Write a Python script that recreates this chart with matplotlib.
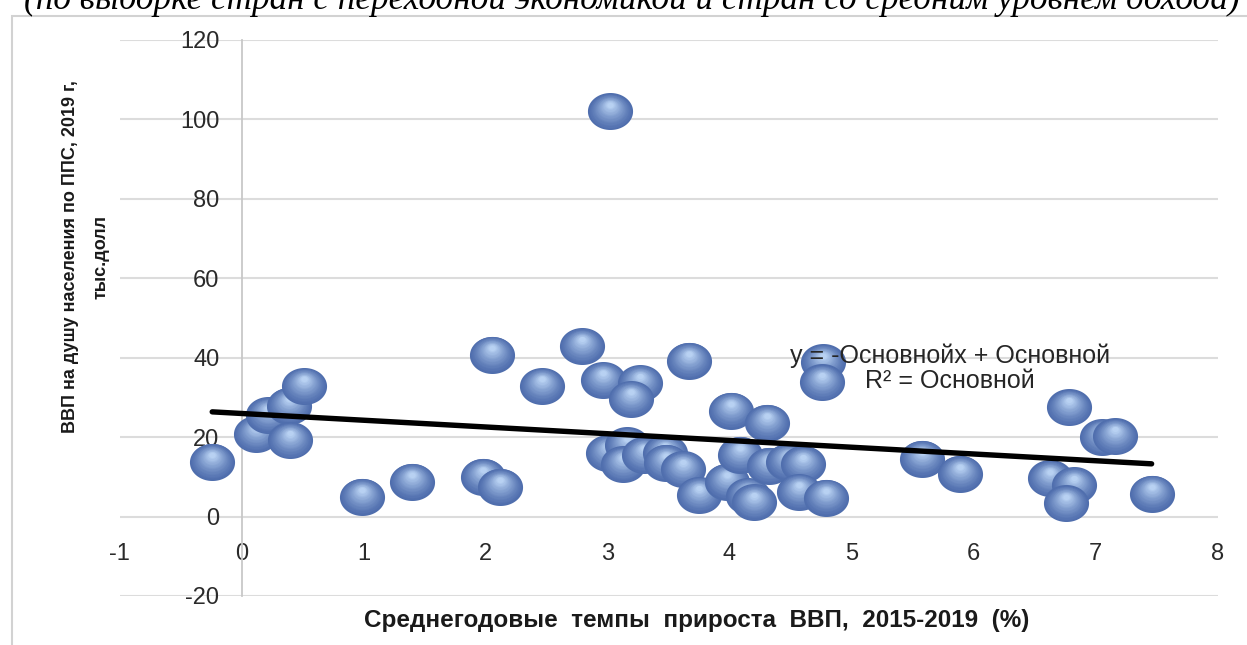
import matplotlib
matplotlib.use('Agg')
import matplotlib.pyplot as plt
import numpy as np
from matplotlib.path import Path
from matplotlib.transforms import offset_copy
from matplotlib.patches import Rectangle

# average GDP growth 2015-2019 (%) and GDP per capita PPP 2019 (thous. $)
growth = [-0.24, 0.12, 0.22, 0.39, 0.51, 0.40, 0.99, 1.40, 1.98, 2.12,
          2.05, 2.46, 2.79, 2.96, 3.27, 3.19, 3.02, 3.67, 3.00, 3.16,
          3.13, 3.30, 3.47, 3.48, 3.62, 3.75, 3.98, 4.01, 4.09, 4.15,
          4.20, 4.31, 4.32, 4.48, 4.60, 4.57, 4.79, 4.77, 4.76, 5.58,
          5.89, 6.63, 6.82, 6.76, 6.78, 7.05, 7.16, 7.46]
gdp_pc = [13.8, 20.8, 25.5, 27.9, 32.9, 19.2, 5.0, 8.8, 10.0, 7.5,
          40.8, 32.9, 42.9, 34.4, 33.6, 29.6, 102.0, 39.2, 16.0, 17.9,
          13.2, 15.5, 16.0, 13.6, 11.9, 5.4, 8.8, 26.7, 15.6, 5.2,
          3.6, 23.6, 12.8, 13.8, 13.2, 6.2, 4.8, 38.8, 33.8, 14.6,
          10.8, 9.6, 7.9, 3.3, 27.5, 20.0, 20.2, 5.8]

# linear trend as drawn in the source chart
trend_intercept = 25.96
trend_slope = -1.70

x_ticks = [-1, 0, 1, 2, 3, 4, 5, 6, 7, 8]
y_ticks = [-20, 0, 20, 40, 60, 80, 100, 120]

title_text = '(по выборке стран с переходной экономикой и стран со средним уровнем дохода)'
x_title = 'Среднегодовые  темпы  прироста  ВВП,  2015-2019  (%)'
y_title = 'ВВП на душу населения по ППС, 2019 г,\nтыс.долл'
eq_text = 'y = -Основнойx + Основной\nR² = Основной'

plt.rcParams['font.family'] = ['Liberation Sans', 'DejaVu Sans']
plt.rcParams['axes.unicode_minus'] = False

W, H = 1247, 645
fig = plt.figure(figsize=(W/100, H/100), dpi=100)
ax = fig.add_axes([119.5/W, 49/H, 1098/W, 556/H])
ax.set_xlim(-1, 8)
ax.set_ylim(-20, 120)
ax.set_xticks(x_ticks)
ax.set_yticks(y_ticks)

for s in ['top', 'right']:
    ax.spines[s].set_visible(False)
ax.spines['left'].set_position(('data', 0))
ax.spines['left'].set_color('#c8c8c8')
ax.spines['left'].set_linewidth(1.3)
ax.spines['bottom'].set_position(('data', 0))
ax.spines['bottom'].set_visible(False)

ax.tick_params(axis='both', length=0, labelsize=17, labelcolor='#2a2a2a')
ax.tick_params(axis='y', pad=16)
ax.tick_params(axis='x', pad=19)
ax.yaxis.grid(True, color='#dcdcdc', lw=1.5)
ax.set_axisbelow(True)

# 3d-looking bubbles: stacked ellipses getting lighter towards the top
theta = np.linspace(0, 2*np.pi, 80)
ell = Path(np.column_stack([np.cos(theta), 0.82*np.sin(theta)]), closed=True)
ball_w = 32.5  # points
rim = np.array([0.31, 0.43, 0.68])
hl = np.array([0.72, 0.82, 0.95])
n_layers = 18
for i, (gx, gy) in enumerate(zip(growth, gdp_pc)):
    for k in range(n_layers):
        t = k / (n_layers - 1)
        f = 1 - 0.86*t
        c = rim + (hl - rim)*t**1.3
        tr = offset_copy(ax.transData, fig=fig, x=0, y=5.0*t, units='points')
        ax.scatter([gx], [gy], s=(ball_w*f)**2, marker=ell, color=c,
                   linewidths=0, transform=tr, zorder=3 + i*0.01 + k*0.0001)

tx = np.array([min(growth), max(growth)])
ax.plot(tx, trend_intercept + trend_slope*tx, color='black', lw=3.9,
        solid_capstyle='round', zorder=5)

ax.text(5.81, 37.4, eq_text, ha='center', va='center', fontsize=18,
        color='#262626', linespacing=1.05, zorder=10)

fig.text(697/W, 1 - 621/H, x_title, ha='center', va='center',
         fontsize=17.5, fontweight='bold', color='#1a1a1a')
fig.text(86/W, 1 - 257/H, y_title, ha='center', va='center', rotation=90,
         fontsize=13, fontweight='bold', color='#1a1a1a',
         multialignment='center', linespacing=2.0)

# chart frame (only the top and left edges are inside the picture)
fig.patches.append(Rectangle((12/W, -0.2), 1.5, 1.2 - 16/H, fill=False,
                             ec='#d2d2d2', lw=1.5, transform=fig.transFigure))

# document caption cut off by the top of the picture
t = fig.text(632/W, 1 - 9/H, title_text, ha='center', va='baseline',
             family=['Liberation Serif', 'DejaVu Serif'], style='italic',
             fontsize=20, color='black')
r = fig.canvas.get_renderer()
tw = t.get_window_extent(r).width
t.set_fontsize(20*1215/tw)

fig.savefig('out.png', dpi=100)
